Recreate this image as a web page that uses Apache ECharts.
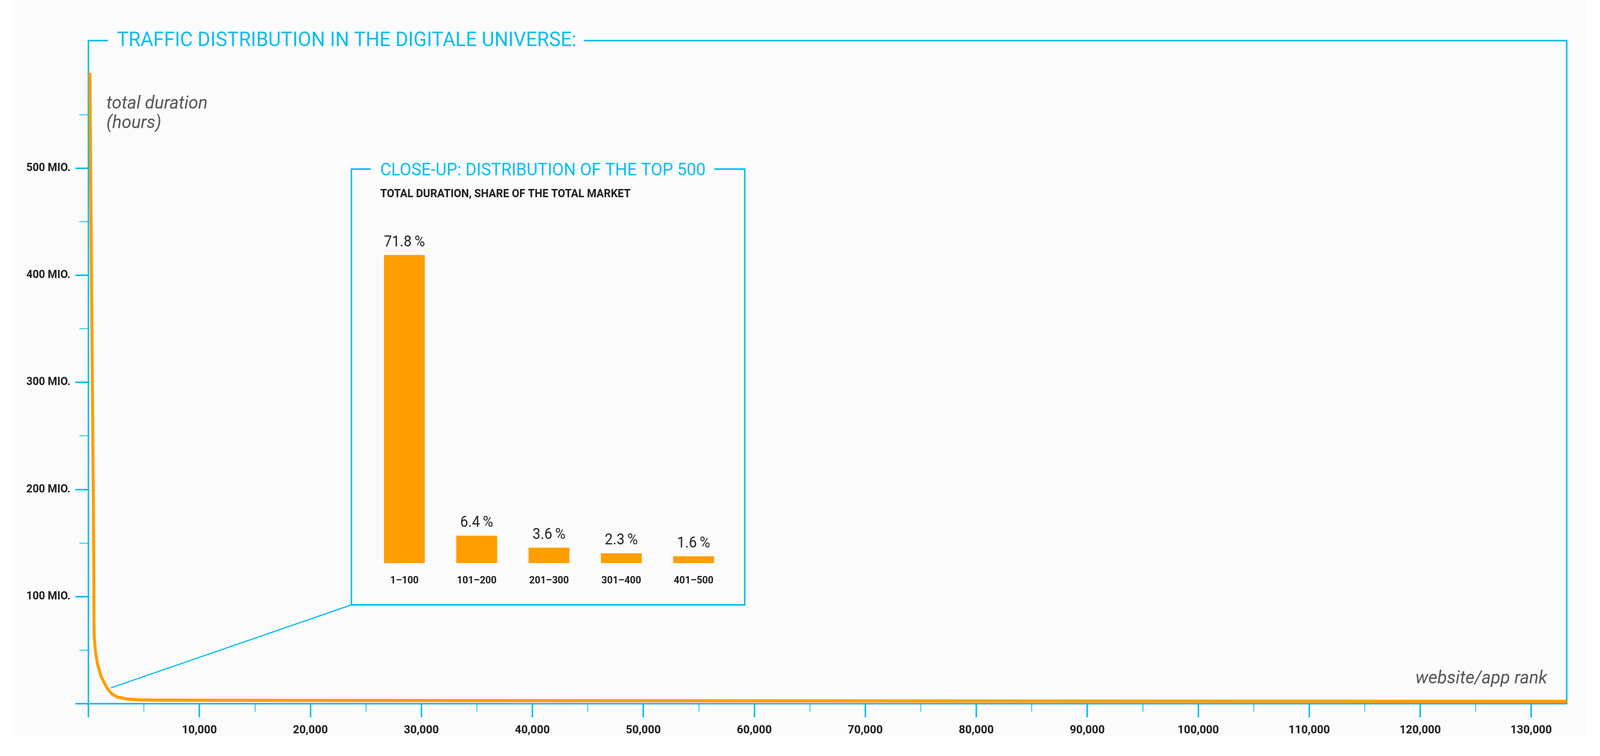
<!DOCTYPE html>
<html>
<head>
<meta charset="utf-8">
<title>Traffic distribution</title>
<script src="https://cdn.jsdelivr.net/npm/echarts@6.0.0/dist/echarts.min.js"></script>
<style>
html, body { margin: 0; padding: 0; background: #fff; overflow: hidden; }
#main { width: 4271px; height: 1936px; transform-origin: 0 0; }
</style>
</head>
<body>
<div id="main"></div>
<script>
// website/app rank -> total duration (mio. hours)
var curveRanks = [135, 260, 450, 485, 505, 530, 630, 820, 1160, 1665, 2100, 2610, 3410, 4530, 6220, 9600, 20000, 40000, 65000, 90000, 110000, 120000, 133200];
var curveHours = [589, 420, 183, 122, 74, 61, 49, 37, 25, 14.7, 9.2, 6.2, 4.4, 3.6, 3.3, 3.2, 3.0, 2.8, 2.6, 2.4, 2.3, 2.2, 2.2];

// axis ticks of the big chart
var yMajorTicks = [0, 100, 200, 300, 400, 500];
var yMinorTicks = [50, 150, 250, 350, 450, 550];
var yLabelValues = [100, 200, 300, 400, 500];
var xMajorTicks = [0, 10000, 20000, 30000, 40000, 50000, 60000, 70000, 80000, 90000, 100000, 110000, 120000, 130000];
var xMinorTicks = [5000, 15000, 25000, 35000, 45000, 55000, 65000, 75000, 85000, 95000, 105000, 115000, 125000];
var xLabelValues = xMajorTicks.slice(1);

// close-up: top 500, share of total market (%)
var topGroups = ['1–100', '101–200', '201–300', '301–400', '401–500'];
var topShares = [71.8, 6.4, 3.6, 2.3, 1.6];

var CYAN = '#00bef0';
var ORANGE = '#ff9e00';
var BG = '#fbfbfb';
var FONT = 'Roboto, "Liberation Sans", sans-serif';

// laid out at 4271 x 1936, stretched to the real viewport
var box = document.getElementById('main');
var sx = window.innerWidth / 4271, sy = window.innerHeight / 1936;
box.style.transform = 'scale(' + sx + ',' + sy + ')';

var chart = echarts.init(box);

var option = {
    backgroundColor: '#ffffff',
    animation: false,
    title: [{
        text: 'TRAFFIC DISTRIBUTION IN THE DIGITALE UNIVERSE:',
        left: 288, top: 75,
        padding: [4, 20, 4, 24],
        backgroundColor: BG,
        textStyle: { color: CYAN, fontFamily: FONT, fontWeight: 'normal', fontSize: 52, lineHeight: 52 }
    }, {
        text: 'CLOSE-UP: DISTRIBUTION OF THE TOP 500',
        left: 990, top: 411,
        padding: [4, 23, 4, 25],
        backgroundColor: BG,
        textStyle: { color: CYAN, fontFamily: FONT, fontWeight: 'normal', fontSize: 45, lineHeight: 45 }
    }, {
        text: 'TOTAL DURATION, SHARE OF THE TOTAL MARKET',
        left: 1015, top: 483,
        padding: 0,
        textStyle: { color: '#1a1a1a', fontFamily: FONT, fontWeight: 'bold', fontSize: 29, lineHeight: 30 }
    }],
    grid: [
        { left: 236, right: 89, top: 104, bottom: 134 },
        { left: 983, right: 2323, top: 653, bottom: 494 }
    ],
    xAxis: [{
        type: 'value', gridIndex: 0, position: 'bottom',
        min: 0, max: 133200,
        axisLine: { show: true, lineStyle: { color: CYAN, width: 4 } },
        axisTick: { show: true, customValues: xMajorTicks, length: 35, lineStyle: { color: CYAN, width: 4 } },
        axisLabel: {
            customValues: xLabelValues, margin: 53,
            color: '#1a1a1a', fontFamily: FONT, fontWeight: 'bold', fontSize: 30, lineHeight: 30,
            formatter: function (v) { return v.toLocaleString('en-US'); }
        },
        splitLine: { show: false }
    }, {
        type: 'category', gridIndex: 1, data: topGroups,
        axisLine: { show: false }, axisTick: { show: false },
        axisLabel: { margin: 32, color: '#1a1a1a', fontFamily: FONT, fontWeight: 'bold', fontSize: 26, lineHeight: 26 }
    }, {
        type: 'value', gridIndex: 0, position: 'bottom', offset: 0,
        min: 0, max: 133200,
        axisLine: { show: false },
        axisTick: { show: true, customValues: xMinorTicks, length: 21, lineStyle: { color: CYAN, width: 2 } },
        axisLabel: { show: false },
        splitLine: { show: false }
    }],
    yAxis: [{
        type: 'value', gridIndex: 0, position: 'left',
        min: 0, max: 619,
        axisLine: { show: true, lineStyle: { color: CYAN, width: 4 } },
        axisTick: { show: true, customValues: yMajorTicks, length: 35, lineStyle: { color: CYAN, width: 4 } },
        axisLabel: {
            customValues: yLabelValues, margin: 48,
            color: '#1a1a1a', fontFamily: FONT, fontWeight: 'bold', fontSize: 29,
            formatter: function (v) { return v + ' MIO.'; }
        },
        splitLine: { show: false }
    }, {
        type: 'value', gridIndex: 1, min: 0, max: 71.8, show: false
    }, {
        type: 'value', gridIndex: 0, position: 'left', offset: 0,
        min: 0, max: 619,
        axisLine: { show: false },
        axisTick: { show: true, customValues: yMinorTicks, length: 24, lineStyle: { color: CYAN, width: 2 } },
        axisLabel: { show: false },
        splitLine: { show: false }
    }],
    series: [{
        type: 'line', xAxisIndex: 0, yAxisIndex: 0,
        data: curveRanks.map(function (r, i) { return [r, curveHours[i]]; }),
        showSymbol: false, symbol: 'none',
        lineStyle: { color: ORANGE, width: 8, cap: 'butt', join: 'round' },
        z: 3
    }, {
        type: 'bar', xAxisIndex: 1, yAxisIndex: 1,
        data: topShares, barWidth: 109,
        itemStyle: { color: ORANGE },
        label: {
            show: true, position: 'top', distance: 13,
            color: '#222', fontFamily: FONT, fontSize: 38,
            formatter: function (p) { return p.value.toFixed(1) + '\u2009%'; }
        }
    }]
};
chart.setOption(option);

// frames, connector and axis names
var connectorPoint = chart.convertToPixel({ xAxisIndex: 0, yAxisIndex: 0 }, [1850, 14.7]);
var cyanLine = { stroke: CYAN, lineWidth: 4 };
chart.setOption({
    graphic: [
        { type: 'rect', silent: true, z: -10, shape: { x: 31, y: 0, width: 4204, height: 1887 }, style: { fill: BG } },
        { type: 'line', silent: true, shape: { x1: 234, y1: 104, x2: 4184, y2: 104 }, style: cyanLine },
        { type: 'line', silent: true, shape: { x1: 4182, y1: 104, x2: 4182, y2: 1802 }, style: cyanLine },
        { type: 'rect', silent: true, shape: { x: 938, y: 433, width: 1050, height: 1116 }, style: { stroke: CYAN, lineWidth: 4, fill: null } },
        { type: 'line', silent: true, shape: { x1: 938, y1: 1549, x2: connectorPoint[0] + 5, y2: connectorPoint[1] }, style: { stroke: CYAN, lineWidth: 3 } },
        {
            type: 'text', silent: true, x: 284, y: 241,
            style: { text: 'total duration\n(hours)', fill: '#555', font: 'italic 400 47px ' + FONT, lineHeight: 50, verticalAlign: 'top' }
        },
        {
            type: 'text', silent: true, x: 4130, y: 1738,
            style: { text: 'website/app rank', fill: '#555', font: 'italic 400 47px ' + FONT, align: 'right', verticalAlign: 'middle' }
        }
    ]
});
</script>
</body>
</html>
